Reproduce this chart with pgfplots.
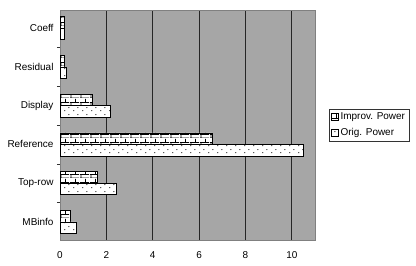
\documentclass[border=0pt]{standalone}
\usepackage{fontspec}
\setmainfont{Liberation Sans}
\usepackage{pgfplots}
\pgfplotsset{compat=1.18}
\usetikzlibrary{patterns}
\definecolor{bggray}{RGB}{166,166,166}
\pgfdeclarepatternformonly{mybricks}{\pgfpointorigin}{\pgfpoint{10bp}{8bp}}{\pgfpoint{10bp}{8bp}}{
  \pgfsetlinewidth{0.8bp}
  \pgfpathmoveto{\pgfpoint{0bp}{0bp}}\pgfpathlineto{\pgfpoint{10bp}{0bp}}
  \pgfpathmoveto{\pgfpoint{0bp}{4bp}}\pgfpathlineto{\pgfpoint{10bp}{4bp}}
  \pgfpathmoveto{\pgfpoint{1bp}{0bp}}\pgfpathlineto{\pgfpoint{1bp}{4bp}}
  \pgfpathmoveto{\pgfpoint{6bp}{4bp}}\pgfpathlineto{\pgfpoint{6bp}{8bp}}
  \pgfusepath{stroke}
}
\pgfdeclarepatternformonly{mydots}{\pgfpointorigin}{\pgfpoint{9bp}{7bp}}{\pgfpoint{9bp}{7bp}}{
  \pgfpathcircle{\pgfpoint{2bp}{1.5bp}}{0.65bp}
  \pgfpathcircle{\pgfpoint{6.5bp}{5bp}}{0.65bp}
  \pgfusepath{fill}
}
\begin{document}
\begin{tikzpicture}[x=1bp,y=1bp]
\path[use as bounding box] (0,0) rectangle (416,266);
\begin{axis}[at={(60bp,26bp)}, anchor=south west, scale only axis,
  width=255bp, height=230bp,
  xbar, xmin=0, xmax=11, ymin=-0.47, ymax=5.47,
  bar width=11.5bp,
  xtick={0,2,...,10}, ytick={0,...,5},
  yticklabels={MBinfo,Top-row,Reference,Display,Residual,Coeff},
  xmajorgrids, major grid style={black!85, line width=0.9pt},
  axis background/.style={fill=bggray},
  axis line style={black!50},
  tick label style={font=\fontsize{10}{12}\selectfont},
  /pgf/number format/assume math mode=true,
  major tick length=0pt,
  minor ytick={0.5,1.5,2.5,3.5,4.5}, minor tick length=3bp,
  ytick pos=left, xtick pos=bottom,
  minor tick style={black!80},
  yticklabel style={xshift=-3bp},
  xticklabel style={yshift=-8bp},
  legend style={at={(1,0.5)}, anchor=west, xshift=14bp, draw=black!80,
    font=\fontsize{10}{12}\selectfont, inner sep=2bp, row sep=3bp},
  legend cell align=left,
  legend image code/.code={\draw[#1] (0bp,-3.5bp) rectangle (7bp,3.5bp);},
]
\addplot[draw=black, fill=white, postaction={pattern=mybricks}, bar shift=5.75bp]
  coordinates {(0.45,0) (1.59,1) (6.57,2) (1.38,3) (0.2,4) (0.2,5)};
\addplot[draw=black, fill=white, postaction={pattern=mydots}, bar shift=-5.75bp]
  coordinates {(0.7,0) (2.43,1) (10.48,2) (2.17,3) (0.27,4) (0.2,5)};
\legend{Improv. Power, Orig. Power}
\end{axis}
\end{tikzpicture}
\end{document}
